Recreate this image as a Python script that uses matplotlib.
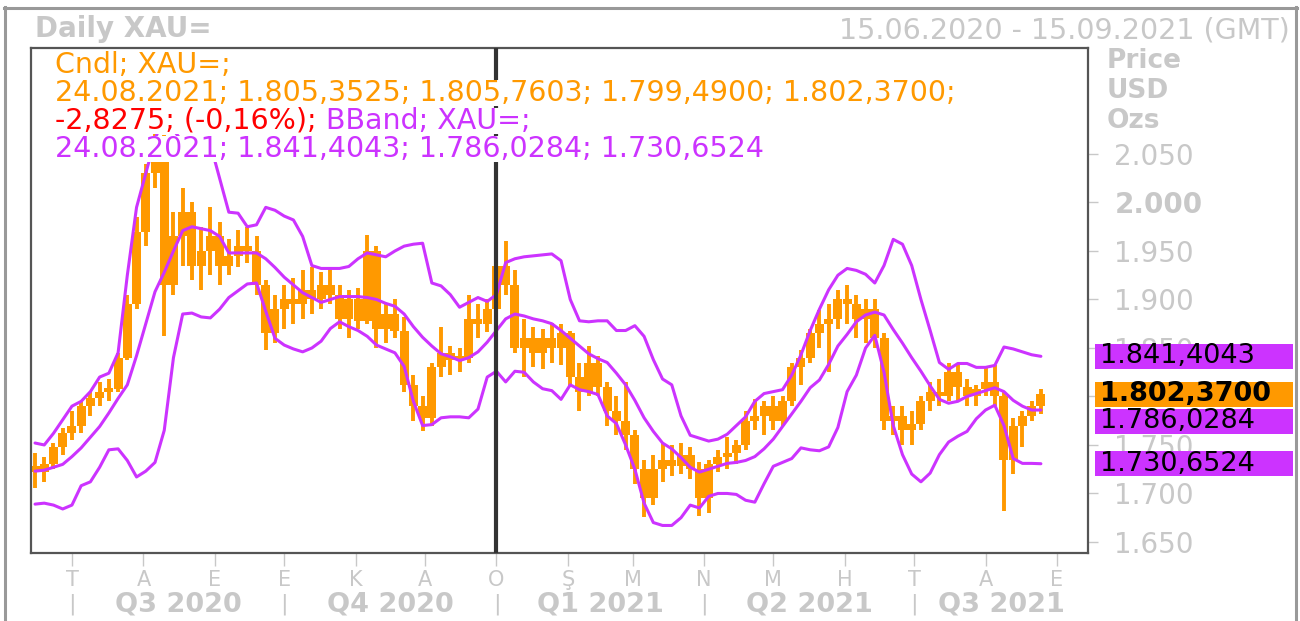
import matplotlib
matplotlib.use("Agg")
import matplotlib.pyplot as plt
from matplotlib.patches import Rectangle
from matplotlib.lines import Line2D
import pandas as pd

W, H = 1300, 621

dates = pd.date_range("2020-06-15", periods=110, freq="4D")
opens = [1728, 1722, 1730, 1748, 1762, 1770, 1790, 1798, 1805, 1808,
         1840, 1895, 1970, 2030, 2065, 1915, 1965, 1990, 1935, 1950,
         1965, 1935, 1945, 1955, 1950, 1915, 1865, 1890, 1900, 1895,
         1910, 1900, 1915, 1905, 1880, 1900, 1878, 1950, 1870, 1885,
         1868, 1812, 1790, 1778, 1830, 1845, 1838, 1840, 1880, 1875,
         1890, 1935, 1915, 1850, 1860, 1845, 1860, 1850, 1865, 1820,
         1805, 1835, 1810, 1785, 1775, 1760, 1725, 1695, 1725, 1735,
         1728, 1740, 1725, 1695, 1730, 1738, 1742, 1750, 1775, 1780,
         1790, 1775, 1795, 1830, 1840, 1865, 1875, 1880, 1900, 1895,
         1880, 1890, 1860, 1775, 1780, 1765, 1772, 1795, 1805, 1800,
         1825, 1810, 1800, 1808, 1815, 1800, 1735, 1770, 1780, 1790]
highs = [1742, 1738, 1752, 1768, 1785, 1795, 1805, 1815, 1818, 1845,
         1905, 1985, 2040, 2075, 2070, 1990, 2015, 2000, 1975, 1995,
         1980, 1962, 1972, 1975, 1965, 1920, 1905, 1915, 1922, 1930,
         1933, 1928, 1932, 1915, 1910, 1912, 1966, 1955, 1895, 1900,
         1882, 1822, 1800, 1835, 1872, 1852, 1850, 1905, 1895, 1900,
         1945, 1960, 1930, 1880, 1872, 1870, 1876, 1875, 1868, 1835,
         1852, 1842, 1815, 1800, 1815, 1765, 1735, 1740, 1752, 1750,
         1752, 1748, 1732, 1735, 1745, 1758, 1755, 1785, 1797, 1795,
         1800, 1800, 1835, 1848, 1870, 1889, 1895, 1910, 1915, 1905,
         1900, 1900, 1865, 1790, 1790, 1785, 1800, 1815, 1818, 1835,
         1832, 1818, 1812, 1830, 1832, 1805, 1778, 1785, 1795, 1808]
lows = [1706, 1712, 1725, 1740, 1755, 1762, 1780, 1790, 1795, 1805,
        1838, 1890, 1955, 2015, 1862, 1905, 1935, 1920, 1910, 1925,
        1915, 1925, 1933, 1938, 1905, 1848, 1855, 1870, 1875, 1880,
        1885, 1890, 1895, 1870, 1860, 1870, 1875, 1850, 1855, 1860,
        1805, 1775, 1764, 1770, 1820, 1822, 1825, 1835, 1860, 1866,
        1885, 1905, 1845, 1820, 1830, 1828, 1835, 1832, 1810, 1785,
        1800, 1800, 1770, 1760, 1745, 1710, 1676, 1688, 1712, 1718,
        1720, 1715, 1677, 1680, 1722, 1725, 1730, 1745, 1765, 1760,
        1765, 1770, 1790, 1812, 1835, 1850, 1825, 1870, 1875, 1860,
        1855, 1850, 1765, 1760, 1750, 1750, 1765, 1785, 1790, 1795,
        1795, 1790, 1790, 1800, 1790, 1682, 1720, 1748, 1775, 1782]
closes = [1722, 1730, 1748, 1762, 1770, 1790, 1798, 1805, 1808, 1840,
          1895, 1970, 2030, 2065, 1915, 1965, 1990, 1935, 1950, 1965,
          1935, 1945, 1955, 1950, 1915, 1865, 1890, 1900, 1895, 1910,
          1900, 1915, 1905, 1880, 1900, 1878, 1950, 1870, 1885, 1868,
          1812, 1790, 1778, 1830, 1845, 1838, 1840, 1880, 1875, 1890,
          1935, 1915, 1850, 1860, 1845, 1860, 1850, 1865, 1820, 1805,
          1835, 1810, 1785, 1775, 1760, 1725, 1695, 1725, 1735, 1728,
          1740, 1725, 1695, 1730, 1738, 1742, 1750, 1775, 1780, 1790,
          1775, 1795, 1830, 1840, 1865, 1875, 1880, 1900, 1895, 1880,
          1890, 1860, 1775, 1780, 1765, 1772, 1795, 1805, 1800, 1825,
          1810, 1800, 1808, 1815, 1800, 1735, 1770, 1780, 1790, 1802.37]

# bollinger bands
bb_upper = [1752, 1750, 1762, 1776, 1790, 1795, 1805, 1820, 1824, 1845,
            1925, 1995, 2030, 2065, 2090, 2075, 2062, 2064, 2064, 2060,
            2025, 1990, 1989, 1975, 1977, 1995, 1992, 1986, 1982, 1965,
            1935, 1932, 1932, 1932, 1934, 1942, 1948, 1946, 1944, 1950,
            1955, 1957, 1958, 1917, 1914, 1905, 1892, 1897, 1902, 1898,
            1905, 1938, 1942, 1944, 1945, 1946, 1947, 1940, 1900, 1878,
            1877, 1878, 1878, 1868, 1868, 1873, 1862, 1838, 1818, 1812,
            1780, 1760, 1757, 1754, 1756, 1761, 1770, 1779, 1795, 1803,
            1805, 1807, 1822, 1843, 1868, 1890, 1910, 1925, 1932, 1930,
            1926, 1917, 1935, 1962, 1957, 1935, 1900, 1868, 1835, 1828,
            1834, 1834, 1830, 1830, 1832, 1851, 1849, 1846, 1843, 1841.40]
bb_mid = [1723, 1724, 1727, 1730, 1738, 1747, 1758, 1769, 1783, 1798,
          1812, 1842, 1875, 1908, 1928, 1950, 1971, 1975, 1973, 1971,
          1965, 1948, 1948, 1948, 1948, 1942, 1933, 1923, 1915, 1907,
          1902, 1897, 1900, 1903, 1903, 1903, 1902, 1900, 1896, 1893,
          1885, 1872, 1861, 1852, 1844, 1841, 1837, 1840, 1846, 1856,
          1868, 1880, 1885, 1883, 1880, 1878, 1875, 1868, 1860, 1852,
          1844, 1839, 1835, 1824, 1812, 1796, 1778, 1764, 1752, 1746,
          1737, 1727, 1722, 1725, 1728, 1731, 1732, 1734, 1738, 1746,
          1756, 1769, 1782, 1795, 1809, 1817, 1833, 1852, 1864, 1877,
          1884, 1887, 1884, 1869, 1855, 1840, 1826, 1811, 1797, 1793,
          1795, 1800, 1803, 1806, 1809, 1805, 1796, 1790, 1786, 1786.03]
bb_lower = [1689, 1690, 1688, 1684, 1688, 1708, 1712, 1727, 1745, 1746,
            1734, 1717, 1723, 1732, 1765, 1840, 1885, 1886, 1882, 1881,
            1890, 1902, 1909, 1916, 1917, 1888, 1860, 1853, 1849, 1846,
            1850, 1857, 1870, 1877, 1872, 1868, 1862, 1853, 1849, 1845,
            1831, 1795, 1770, 1771, 1778, 1779, 1779, 1778, 1787, 1820,
            1826, 1815, 1826, 1825, 1815, 1808, 1806, 1797, 1812, 1807,
            1805, 1802, 1780, 1772, 1750, 1725, 1690, 1670, 1667, 1667,
            1675, 1688, 1685, 1697, 1700, 1700, 1699, 1693, 1691, 1710,
            1728, 1732, 1736, 1747, 1745, 1744, 1748, 1768, 1805, 1822,
            1850, 1863, 1825, 1770, 1740, 1720, 1712, 1721, 1740, 1753,
            1759, 1764, 1777, 1786, 1791, 1770, 1736, 1731, 1731, 1730.65]

yticks = [1650, 1700, 1750, 1800, 1850, 1900, 1950, 2000, 2050]
month_starts = pd.date_range("2020-07-01", "2021-09-01", freq="MS")
month_labels = ["T", "A", "E", "E", "K", "A", "O", "Ş", "M", "N", "M", "H", "T", "A", "E"]
quarter_starts = pd.to_datetime(["2020-07-01", "2020-10-01", "2021-01-01", "2021-04-01", "2021-07-01"])
quarter_labels = ["Q3 2020", "Q4 2020", "Q1 2021", "Q2 2021", "Q3 2021"]
cursor_date = pd.Timestamp("2021-01-01")

value_labels = ["1.841,4043", "1.802,3700", "1.786,0284", "1.730,6524"]
value_levels = [1841.40, 1802.37, 1786.03, 1730.65]

ORANGE = "#ff9900"
PURPLE = "#cc33ff"
RED = "#ff0000"
GREY = "#c8c8c8"

plt.rcParams["font.family"] = ["DejaVu Sans"]


def fx(x):
    return x / W


def fy(y):
    return 1 - y / H


fig = plt.figure(figsize=(W / 100, H / 100), dpi=100)
ax = fig.add_axes([fx(31), fy(553), (1088 - 31) / W, (553 - 48) / H])

xmin = pd.Timestamp("2020-06-13 06:00")
xmax = pd.Timestamp("2021-09-14 10:00")
ax.set_xlim(xmin, xmax)
ax.set_ylim(1638.6, 2159.3)

# candles
for d, o, h, l, c in zip(dates, opens, highs, lows, closes):
    ax.vlines(d, l, h, color=ORANGE, lw=2.8, zorder=2)
    ax.bar(d, max(abs(c - o), 4), bottom=min(o, c), width=3.9, color=ORANGE,
           linewidth=0, zorder=2)

# bands
for band in (bb_upper, bb_mid, bb_lower):
    ax.plot(dates, band, color=PURPLE, lw=2.2, zorder=3, solid_capstyle="round")

ax.axvline(cursor_date, color="#333333", lw=3, zorder=4)

for s in ax.spines.values():
    s.set_color("#555555")
    s.set_linewidth(1.6)

# right price axis
ax.yaxis.tick_right()
ax.set_yticks(yticks, [f"{v:,}".replace(",", ".") for v in yticks])
ax.tick_params(axis="y", length=7, width=1, color=GREY, labelcolor=GREY,
               labelsize=20, pad=12)
for t in ax.get_yticklabels():
    if t.get_text() == "2.000":
        t.set_fontweight("bold")

# month ticks
ax.set_xticks(month_starts, month_labels)
ax.tick_params(axis="x", length=9, width=1, color=GREY, labelcolor=GREY,
               labelsize=15, pad=3)

# quarter row
xt = ax.get_xaxis_transform()
for i, (q, lab) in enumerate(zip(quarter_starts, quarter_labels)):
    end = quarter_starts[i + 1] if i + 1 < len(quarter_starts) else xmax
    mid = q + (end - q) / 2
    ax.text(q, -0.101, "|", transform=xt, ha="center", va="center",
            color=GREY, fontsize=16, clip_on=False)
    ax.text(mid, -0.101, lab, transform=xt, ha="center", va="center",
            color=GREY, fontsize=19.5, fontweight="bold", clip_on=False)

# last value boxes on the right
px_per_unit = (553 - 48) / (2159.3 - 1638.6)
box_h = 25 / px_per_unit
gap = 27 / px_per_unit
yt = ax.get_yaxis_transform()
order = sorted(range(len(value_levels)), key=lambda i: -value_levels[i])
prev = None
for i in order:
    c = value_levels[i]
    if prev is not None and prev - c < gap:
        c = prev - gap
    prev = c
    bold = i == 1
    ax.add_patch(Rectangle((1.0066, c - box_h / 2), 0.1873, box_h, transform=yt,
                           facecolor=ORANGE if bold else PURPLE, edgecolor="none",
                           clip_on=False, zorder=5))
    ax.text(1.011, c, value_labels[i], transform=yt, ha="left", va="center",
            fontsize=19.5, color="black", fontweight="bold" if bold else "normal",
            clip_on=False, zorder=6)

# header texts
fig.text(fx(35), fy(29), "Daily XAU=", fontsize=20, fontweight="bold",
         color=GREY, va="center", ha="left")
fig.text(fx(1290), fy(30), "15.06.2020 - 15.09.2021 (GMT)", fontsize=20.5,
         color=GREY, va="center", ha="right")
for y, s in [(61, "Price"), (91, "USD"), (121, "Ozs")]:
    fig.text(fx(1107), fy(y), s, fontsize=19, fontweight="bold", color=GREY,
             va="center", ha="left")

# legend lines inside the plot
lfs = 20.5
legend = []
legend.append(fig.text(fx(55), fy(65), "Cndl; XAU=;", fontsize=lfs, color=ORANGE, va="center"))
legend.append(fig.text(fx(55), fy(93), "24.08.2021; 1.805,3525; 1.805,7603; 1.799,4900; 1.802,3700;",
                       fontsize=lfs, color=ORANGE, va="center"))
t3 = fig.text(fx(55), fy(121), "-2,8275; (-0,16%);", fontsize=lfs, color=RED, va="center")
legend.append(t3)
legend.append(fig.text(0, 0, " BBand; XAU=;", fontsize=lfs, color=PURPLE, va="center",
                       ha="left", transform=fig.transFigure))
legend.append(fig.text(fx(55), fy(149), "24.08.2021; 1.841,4043; 1.786,0284; 1.730,6524",
                       fontsize=lfs, color=PURPLE, va="center"))

fig.canvas.draw()
r = fig.canvas.get_renderer()
bb3 = t3.get_window_extent(r)
legend[3].set_position((bb3.x1 / W, fy(121)))
fig.canvas.draw()
for t in legend:
    bb = t.get_window_extent(r)
    fig.patches.append(Rectangle((bb.x0 / W, (bb.y0 + 1) / H), bb.width / W,
                                 (bb.height - 2) / H, transform=fig.transFigure,
                                 facecolor="white", edgecolor="none", zorder=2.5))

# outer frame
for xs, ys in [((4.5, 4.5), (7, 621)), ((4, 1297), (7.5, 7.5)), ((1296, 1296), (7, 621))]:
    fig.add_artist(Line2D([fx(x) for x in xs], [fy(y) for y in ys], color="#999999",
                          lw=2.2, transform=fig.transFigure))

fig.savefig("out.png", dpi=100)
